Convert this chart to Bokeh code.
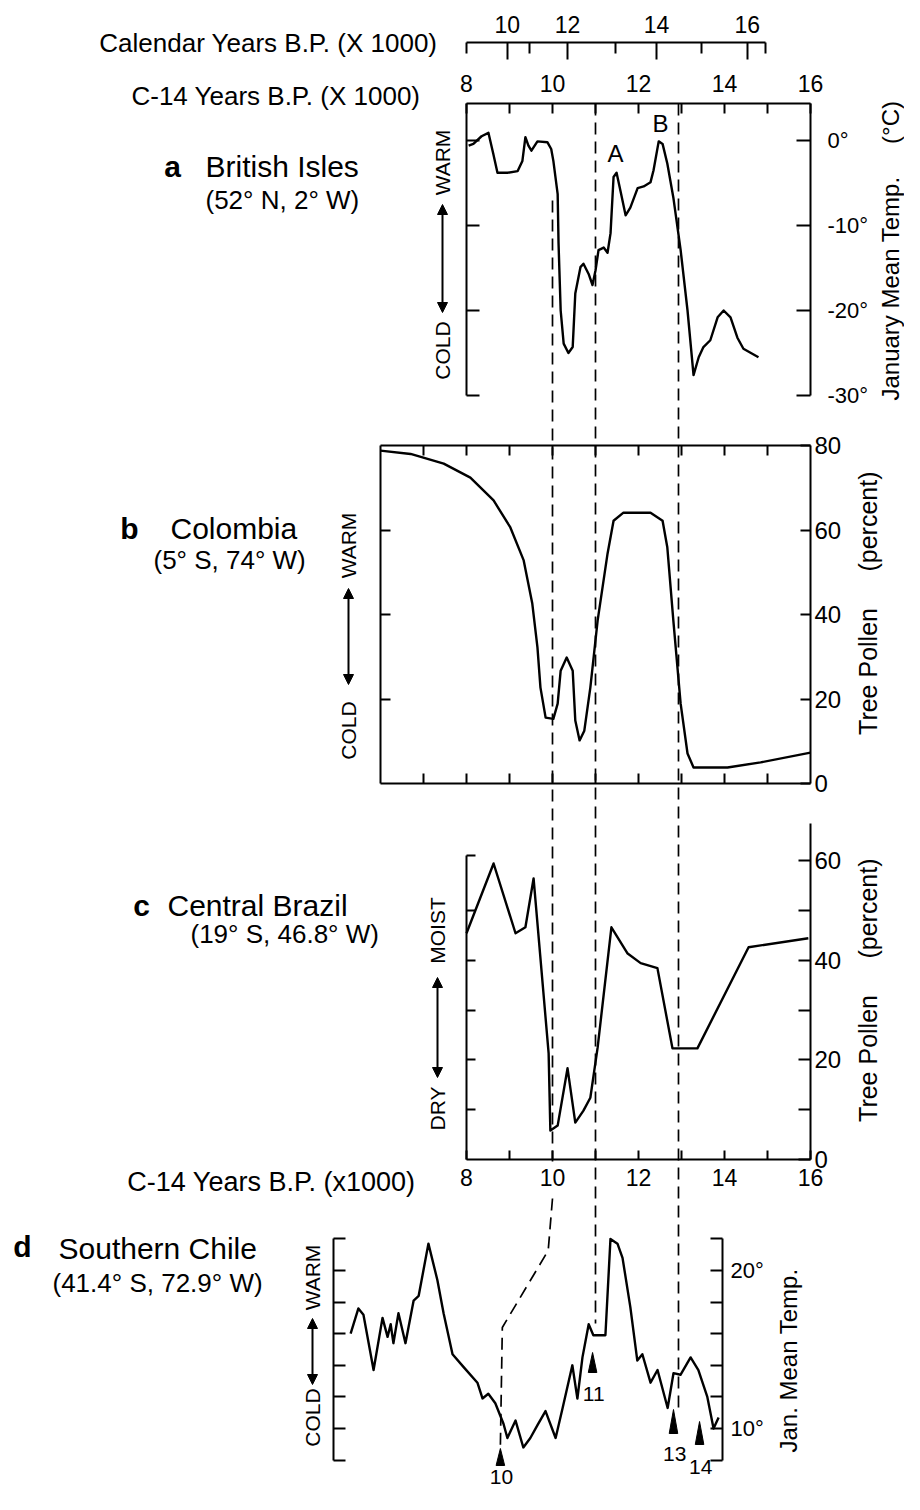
import math
from bokeh.plotting import figure
from bokeh.models import Range1d, LinearAxis, FixedTicker, Arrow, NormalHead
from bokeh.core.properties import value
from bokeh.embed import file_html
from bokeh.resources import INLINE

# ------------------------------------------------------------------ data
# C-14 time axis (x 1000 yr BP)
c14_labeled_ticks = [8, 10, 12, 14, 16]
c14_unlabeled_ticks = [9, 11, 13, 15]
colombia_ticks = [7, 8, 9, 10, 11, 12, 13, 14, 15]

# Calendar-age scale, tick positions expressed on the C-14 scale
cal_tick_labels = ["10", "12", "14", "16"]
cal_labeled_at_c14 = [8.95, 10.35, 12.42, 14.53]
cal_minor_at_c14 = [8.0, 9.47, 11.47, 13.47, 14.95]

# correlation (dashed) lines, C-14 ka
event_ages = [10.0, 11.0, 12.93]

# a  British Isles: January mean temperature (deg C)
brit_age = [8.05, 8.16, 8.35, 8.51, 8.62, 8.72, 8.95, 9.19, 9.30, 9.37, 9.44, 9.51,
            9.65, 9.88, 9.97, 10.02, 10.12, 10.14, 10.19, 10.26, 10.37, 10.47, 10.53,
            10.65, 10.72, 10.84, 10.93, 11.0, 11.07, 11.19, 11.28, 11.35, 11.42, 11.49,
            11.58, 11.70, 11.81, 11.98, 12.12, 12.28, 12.35, 12.47, 12.56, 12.67, 12.81,
            12.98, 13.14, 13.28, 13.40, 13.51, 13.67, 13.84, 13.98, 14.14, 14.30, 14.44,
            14.79]
brit_temp = [-0.6, -0.4, 0.5, 0.9, -1.5, -3.8, -3.8, -3.6, -2.4, 0.4, -0.6, -1.2,
             -0.1, -0.2, -1.0, -2.4, -6.3, -12.0, -20.0, -23.9, -25.0, -24.3, -18.0,
             -14.9, -14.5, -15.7, -17.0, -15.3, -12.9, -12.6, -13.2, -10.9, -4.3, -3.8,
             -5.9, -8.8, -7.9, -5.6, -5.4, -4.9, -3.5, -0.1, -0.4, -2.7, -6.7,
             -12.9, -20.0, -27.6, -25.5, -24.3, -23.5, -20.8, -20.0, -20.8, -23.2, -24.5,
             -25.5]
brit_ticks = [0, -10, -20, -30]
brit_tick_labels = ["0°", "-10°", "-20°", "-30°"]

# b  Colombia: tree pollen (%)
col_age = [6.0, 6.70, 7.47, 8.09, 8.63, 9.02, 9.33, 9.53, 9.65, 9.72, 9.84, 10.02,
           10.12, 10.19, 10.33, 10.47, 10.53, 10.63, 10.74, 10.88, 11.05, 11.28, 11.42,
           11.65, 12.28, 12.56, 12.67, 12.81, 12.98, 13.14, 13.28, 14.07, 14.84, 16.0]
col_pollen = [78.8, 78.0, 75.7, 72.4, 67.0, 60.6, 52.8, 42.6, 32.2, 22.7, 15.6, 15.3,
              18.9, 26.7, 29.8, 26.7, 14.9, 10.2, 12.5, 22.7, 38.6, 54.4, 62.2,
              64.1, 64.1, 62.2, 55.9, 38.6, 18.9, 7.1, 3.8, 3.8, 5.0, 7.3]
col_ticks = [0, 20, 40, 60, 80]

# c  Central Brazil: tree pollen (%)
bra_age = [8.0, 8.63, 9.14, 9.37, 9.56, 9.91, 9.95, 10.12, 10.35, 10.53, 10.72, 10.88,
           11.05, 11.37, 11.74, 12.05, 12.44, 12.79, 13.37, 14.56, 15.95]
bra_pollen = [45.4, 59.4, 45.4, 46.6, 56.4, 21.3, 5.8, 6.8, 18.3, 7.4, 9.8, 12.4,
              22.5, 46.6, 41.4, 39.4, 38.4, 22.3, 22.3, 42.6, 44.4]
bra_labeled_ticks = [0, 20, 40, 60]
bra_unlabeled_ticks = [10, 30, 50]

# d  Southern Chile: January mean temperature (deg C), position along record (0-100)
chile_pos = [4.4, 6.4, 7.7, 10.3, 12.6, 13.9, 14.7, 15.4, 16.7, 18.5, 20.6, 21.9, 24.4,
             26.7, 28.3, 30.6, 33.4, 37.0, 38.3, 39.8, 41.6, 43.7, 44.7, 46.8, 48.8,
             50.6, 52.4, 54.5, 57.1, 58.9, 61.4, 62.7, 64.0, 65.6, 66.8, 69.9, 71.2,
             73.0, 74.3, 76.3, 78.1, 79.4, 81.5, 83.3, 85.9, 87.4, 89.2, 91.8, 93.8,
             96.1, 97.7, 99.0]
chile_temp = [16.0, 17.6, 17.2, 13.7, 17.0, 15.8, 16.6, 15.4, 17.3, 15.4, 18.1, 18.4, 21.7,
              19.4, 17.3, 14.7, 13.9, 12.9, 11.9, 12.2, 11.6, 10.3, 9.4, 10.5, 8.8,
              9.4, 10.2, 11.1, 9.4, 11.3, 14.0, 11.9, 14.5, 16.6, 15.9, 15.9, 22.0,
              21.7, 20.8, 17.7, 14.3, 14.7, 12.9, 13.7, 11.3, 13.5, 13.4, 14.5, 13.7,
              12.0, 10.0, 10.7]
chile_ticks_labeled = [10, 20]
chile_tick_labels = ["10°", "20°"]
chile_ticks_unlabeled = [8, 12, 14, 16, 18, 22]
chile_marker_pos = [42.9, 66.6, 87.4, 94.1]
chile_marker_labels = ["10", "11", "13", "14"]

# ------------------------------------------------------------------ layout helpers
FONT = "Liberation Sans"
W, H = 904, 1494
X0, X1 = 0, W          # picture x of frame edges
YT, YB = 0, H          # picture y of frame edges


def fwd(v1, p1, v2, p2):
    return lambda v: p1 + (v - v1) * (p2 - p1) / (v2 - v1)


def inv(v1, p1, v2, p2):
    return lambda q: v1 + (q - p1) * (v2 - v1) / (p2 - p1)


def hrange(*a):
    f = inv(*a)
    return Range1d(start=f(X0), end=f(X1))


def vrange(*a):
    f = inv(*a)
    return Range1d(start=f(YB), end=f(YT))


YR = (10, 552, 16, 810)       # C-14 ka -> picture x
DX = (0, 333, 100, 722)       # Chile record position -> picture x
VA = (0, 140, -30, 395)       # British temp -> picture y
VB = (0, 783, 80, 445)        # Colombia pollen -> picture y
VC = (0, 1159, 60, 860)       # Brazil pollen -> picture y
VD = (10, 1428, 20, 1270)     # Chile temp -> picture y

yr_px, dx_px = fwd(*YR), fwd(*DX)
a_val, c_val = inv(*VA), inv(*VC)

p = figure(width=W, height=H, x_range=Range1d(X0, X1), y_range=Range1d(YB, YT),
           output_backend="svg", toolbar_location=None, min_border=0,
           x_axis_location=None, y_axis_location=None)
p.xgrid.visible = False
p.ygrid.visible = False
p.outline_line_color = None
p.background_fill_color = "white"
p.border_fill_color = "white"
p.extra_x_ranges = {"yr": hrange(*YR), "dx": hrange(*DX)}
p.extra_y_ranges = {"a": vrange(*VA), "b": vrange(*VB), "c": vrange(*VC), "d": vrange(*VD)}


def axis(side, xr, yr, loc, bounds, major=(), minor=(), labels=None, tick=10,
         minor_tick=None, standoff=6, size="22px"):
    ax = LinearAxis(x_range_name=xr, y_range_name=yr, fixed_location=loc, bounds=bounds,
                    ticker=FixedTicker(ticks=list(major), minor_ticks=list(minor)))
    ax.axis_line_width = 2
    ax.axis_line_color = "black"
    ax.major_tick_in = tick
    ax.major_tick_out = 0
    ax.major_tick_line_width = 2
    ax.minor_tick_in = tick if minor_tick is None else minor_tick
    ax.minor_tick_out = 0
    ax.minor_tick_line_width = 2
    ax.major_label_standoff = standoff
    ax.major_label_text_font = FONT
    ax.major_label_text_font_size = size
    ax.major_label_text_color = "black"
    if labels is not None:
        ov = {}
        for t, l in zip(major, labels):
            ov[t] = l
            ov[str(t)] = l
        ax.major_label_overrides = ov
    p.add_layout(ax, side)
    return ax


a_top = a_val(103)
# calendar scale
axis("above", "yr", "a", a_val(42), (8.0, 14.95), cal_labeled_at_c14, cal_minor_at_c14,
     labels=cal_tick_labels, tick=17, minor_tick=11, standoff=10, size="23px")
# panel a frame
axis("above", "yr", "a", a_top, (8, 16), c14_labeled_ticks, c14_unlabeled_ticks,
     tick=10, standoff=12, size="23px")
axis("left", "yr", "a", 8, (-30, a_top), (), brit_ticks, tick=13)
axis("right", "yr", "a", 16, (-30, a_top), brit_ticks, (), labels=brit_tick_labels,
     tick=14, standoff=17, size="22px")
# panel b frame
axis("above", "yr", "b", 80, (6, 16), (), colombia_ticks, tick=10)
axis("below", "yr", "b", 0, (6, 16), (), colombia_ticks, tick=10)
axis("left", "yr", "b", 6, (0, 80), (), col_ticks[1:-1], tick=10)
axis("right", "yr", "b", 16, (0, 80), col_ticks, (), tick=10, standoff=4, size="24px")
# panel c frame
axis("left", "yr", "c", 8, (0, c_val(855)), (), bra_unlabeled_ticks + [20, 40, c_val(855)], tick=9)
axis("below", "yr", "c", 0, (8, 16), c14_labeled_ticks, c14_unlabeled_ticks, tick=9,
     standoff=9, size="23px")
axis("right", "yr", "c", 16, (0, c_val(823)), bra_labeled_ticks, bra_unlabeled_ticks,
     tick=12, standoff=4, size="24px")
# panel d frame
axis("left", "dx", "d", 0, (8, 22), (), chile_ticks_labeled + chile_ticks_unlabeled, tick=12)
axis("right", "dx", "d", 100, (8, 22), chile_ticks_labeled, chile_ticks_unlabeled,
     labels=chile_tick_labels, tick=12, standoff=8, size="22px")

# ------------------------------------------------------------------ dashed correlation lines
dash = dict(line_color="black", line_width=1.7, line_dash="12 7")
ends = [200, 103, 103]
stops = [1161, 1323, 1407]
p.multi_line(xs=[[a, a] for a in event_ages], ys=[[s, e] for s, e in zip(ends, stops)],
             x_range_name="yr", **dash)
p.line(x=[yr_px(event_ages[0]), yr_px(event_ages[0] - 0.1),
          dx_px(chile_marker_pos[0] + 0.5), dx_px(chile_marker_pos[0])],
       y=[1198, 1250, 1327, 1445], **dash)

# ------------------------------------------------------------------ curves
curve = dict(line_color="black", line_width=2.4, line_join="round")
p.line(brit_age, brit_temp, x_range_name="yr", y_range_name="a", **curve)
p.line(col_age, col_pollen, x_range_name="yr", y_range_name="b", **curve)
p.line(bra_age, bra_pollen, x_range_name="yr", y_range_name="c", **curve)
p.line(chile_pos, chile_temp, x_range_name="dx", y_range_name="d", **curve)

# Chile age markers (narrow triangles) and labels
tri_top = [1448, 1352, 1409, 1421]
tri_bot = [1465, 1372, 1433, 1444]
lab_y = [1476, 1393, 1453, 1466]
p.patches(xs=[[m - 1.1, m, m + 1.1] for m in chile_marker_pos],
          ys=[[b, t, b] for t, b in zip(tri_top, tri_bot)],
          x_range_name="dx", fill_color="black", line_color="black", line_width=1)
p.text(x=[m + 0.3 for m in chile_marker_pos], y=lab_y, text=chile_marker_labels,
       x_range_name="dx", text_font=value(FONT), text_font_size="21px",
       text_align="center", text_baseline="middle")


# ------------------------------------------------------------------ texts
def txt(x, y, s, size="24px", align="left", angle=0.0, style="normal"):
    p.text(x=[x], y=[y], text=[s], angle=angle, text_font=value(FONT),
           text_font_size=size, text_align=align, text_baseline="middle",
           text_font_style=style, text_color="black")


V = math.pi / 2
txt(437, 42, "Calendar Years B.P. (X 1000)", "26px", "right")
txt(420, 95, "C-14 Years B.P. (X 1000)", "26px", "right")

# panel a
txt(172, 166, "a", "30px", "center", style="bold")
txt(205, 166, "British Isles", "30px")
txt(205, 199, "(52° N, 2° W)", "26px")
txt(615, 153, "A", "24px", "center")
txt(660, 123, "B", "24px", "center")
txt(890, 122, "(°C)", "24px", "center", V)
txt(890, 288, "January Mean Temp.", "24px", "center", V)

# panel b
txt(129, 528, "b", "30px", "center", style="bold")
txt(170, 528, "Colombia", "30px")
txt(153, 559, "(5° S, 74° W)", "26px")
txt(867, 521, "(percent)", "25px", "center", V)
txt(867, 671, "Tree Pollen", "25px", "center", V)

# panel c
txt(141, 905, "c", "30px", "center", style="bold")
txt(167, 905, "Central Brazil", "30px")
txt(190, 933, "(19° S, 46.8° W)", "26px")
txt(867, 908, "(percent)", "25px", "center", V)
txt(867, 1058, "Tree Pollen", "25px", "center", V)
txt(415, 1181, "C-14 Years B.P. (x1000)", "27px", "right")

# panel d
txt(22, 1246, "d", "30px", "center", style="bold")
txt(58, 1248, "Southern Chile", "30px")
txt(52, 1282, "(41.4° S, 72.9° W)", "26px")
txt(788, 1360, "Jan. Mean Temp.", "24px", "center", V)

# WARM / COLD arrows
for x, top_word, top_c, a0, a1, bot_word, bot_c in [
        (442, "WARM", 162, 204, 312, "COLD", 350),
        (348, "WARM", 545, 588, 684, "COLD", 730),
        (437, "MOIST", 930, 977, 1077, "DRY", 1108),
        (312, "WARM", 1277, 1318, 1384, "COLD", 1417)]:
    txt(x, top_c, top_word, "21px", "center", V)
    txt(x, bot_c, bot_word, "21px", "center", V)
    p.add_layout(Arrow(x_start=x, y_start=a0, x_end=x, y_end=a1, line_width=2,
                       start=NormalHead(size=10, fill_color="black", line_color="black"),
                       end=NormalHead(size=10, fill_color="black", line_color="black")))

open("out.html", "w").write(file_html(p, INLINE))
